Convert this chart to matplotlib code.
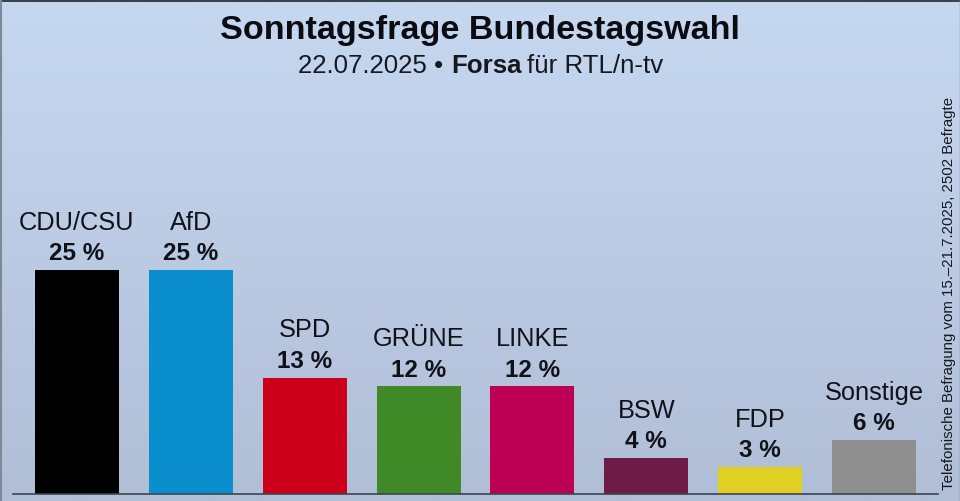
import numpy as np
import matplotlib
matplotlib.use('Agg')
import matplotlib.pyplot as plt

parties = ['CDU/CSU', 'AfD', 'SPD', 'GRÜNE', 'LINKE', 'BSW', 'FDP', 'Sonstige']
values = [25, 25, 13, 12, 12, 4, 3, 6]
colors = ['#000000', '#0a8ecc', '#cc0018', '#3f8a26', '#bc0054', '#6e1c45', '#e0d024', '#8f8f8f']

plt.rcParams['font.family'] = 'Liberation Sans'

fig = plt.figure(figsize=(9.6, 5.01), dpi=100)

# Background gradient
bg = fig.add_axes([0, 0, 1, 1], zorder=0)
top = np.array([0xc6, 0xd8, 0xf0]) / 255
bottom = np.array([0xb0, 0xbe, 0xd6]) / 255
t = np.linspace(0, 1, 256)[:, None, None]
bg.imshow(top + (bottom - top) * t, aspect='auto', extent=[0, 960, 501, 0])
bg.set_xlim(0, 960)
bg.set_ylim(501, 0)
bg.axis('off')
bg.plot([0, 960], [0.5, 0.5], color='#20242c', lw=1.2)
bg.plot([0.7, 0.7], [0, 501], color='#7f8894', lw=1.5)
bg.plot([959.5, 959.5], [0, 501], color='#7f8894', lw=1)

# Bars
ax = fig.add_axes([13 / 960, 7 / 501, 925 / 960, 494 / 501], zorder=1)
ax.patch.set_alpha(0)
x = np.arange(len(parties))
ax.bar(x, values, width=84 / 113.86, color=colors)
ax.set_xlim(-0.562, 7.562)
ax.set_ylim(0, 494 / 8.96)
ax.set_xticks([])
ax.set_yticks([])
for s in ['top', 'left', 'right']:
    ax.spines[s].set_visible(False)
ax.spines['bottom'].set_color('#3c4450')
ax.spines['bottom'].set_linewidth(1.2)

for i, (p, v) in enumerate(zip(parties, values)):
    ax.annotate(f'{v} %', (i, v), xytext=(0, 3.5), textcoords='offset points',
                ha='center', va='bottom', fontsize=17.5, fontweight='bold', color='#101218')
    ax.annotate(p, (i, v), xytext=(0, 25.3), textcoords='offset points',
                ha='center', va='bottom', fontsize=18.3, color='#101218')

# Titles
fig.text(479.5 / 960, 1 - 30 / 501, 'Sonntagsfrage Bundestagswahl', ha='center', va='center',
         fontsize=24.6, fontweight='bold', color='#0a0c12')
fig.text(450 / 960, 1 - 66 / 501, '22.07.2025 • ', ha='right', va='center',
         fontsize=18.6, color='#15181f')
fig.text(451 / 960, 1 - 66 / 501, 'Forsa', ha='left', va='center',
         fontsize=18.6, fontweight='bold', color='#15181f')
fig.text(527 / 960, 1 - 66 / 501, 'für RTL/n-tv', ha='left', va='center',
         fontsize=18.6, color='#15181f')

# Source note
fig.text(949 / 960, 1 - 490 / 501, 'Telefonische Befragung vom 15.–21.7.2025, 2502 Befragte',
         rotation=90, ha='center', va='bottom', fontsize=10.8, color='#15181f')

fig.savefig('out.png', dpi=100)
